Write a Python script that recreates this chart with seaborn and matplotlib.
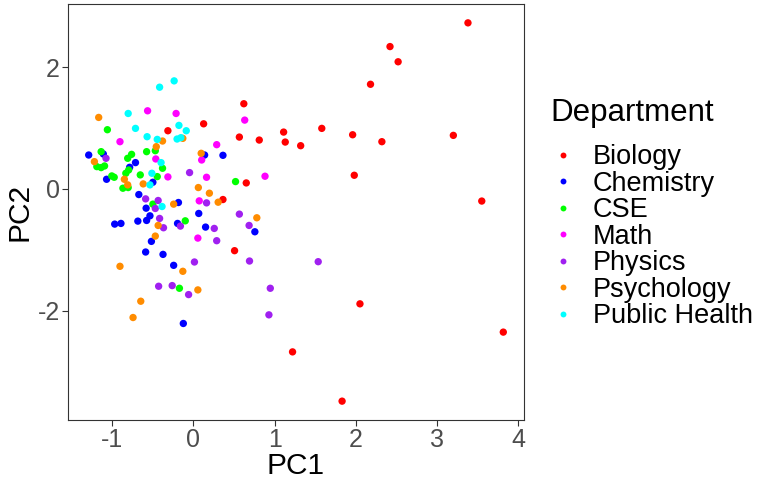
import pandas as pd
import matplotlib
matplotlib.use("Agg")
import matplotlib.pyplot as plt
import seaborn as sns

# ===================== data =====================
departments = ["Biology", "Chemistry", "CSE", "Math", "Physics", "Psychology", "Public Health"]
colors = ["#FF0000", "#0000FF", "#00FF00", "#FF00FF", "#A020F0", "#FF8C00", "#00FFFF"]

bio_pc1 = [3.38, 2.42, 2.52, 2.18, 0.62, 0.125, -0.315, 1.58, 1.11, 0.565, 0.81, 1.13, 1.32,
           1.96, 3.20, 2.32, 1.98, 0.65, 3.55, 0.363, 0.506, 2.05, 1.22, 3.815, 1.83]
bio_pc2 = [2.73, 2.34, 2.09, 1.72, 1.40, 1.07, 0.956, 0.995, 0.934, 0.852, 0.803, 0.77, 0.71,
           0.89, 0.88, 0.776, 0.224, 0.098, -0.20, -0.175, -1.016, -1.89, -2.68, -2.355, -3.49]

chem_pc1 = [-1.29, -1.11, -0.786, -0.714, -1.07, -0.50, 0.137, 0.363, -0.673, -0.583, -0.536,
            -0.577, -0.970, -0.893, -0.685, -0.185, -0.196, 0.065, 0.149, -0.518, -0.589,
            -0.375, -0.244, -0.125, 0.756]
chem_pc2 = [0.557, 0.574, 0.355, 0.432, 0.158, 0.109, 0.557, 0.552, -0.093, -0.317, -0.443,
            -0.519, -0.579, -0.568, -0.530, -0.224, -0.568, -0.404, -0.628, -0.863, -1.038,
            -1.077, -1.257, -2.213, -0.705]

cse_pc1 = [-1.06, -1.137, -0.762, -0.577, -0.470, -0.810, -1.19, -1.137, -1.095, -0.798, -0.833,
           -0.655, -0.446, -0.381, -1.006, -0.976, -0.869, -0.804, 0.518, -0.50, -0.101, -0.173]
cse_pc2 = [0.973, 0.612, 0.568, 0.612, 0.628, 0.503, 0.366, 0.350, 0.377, 0.311, 0.257,
           0.230, 0.202, 0.339, 0.213, 0.191, 0.011, 0.022, 0.120, -0.251, -0.525, -1.634]

math_pc1 = [-0.565, -0.214, -0.905, 0.286, -0.464, 0.101, -0.315, 0.161, 0.071, 0.054, 0.631, 0.881]
math_pc2 = [1.284, 1.240, 0.776, 0.727, 0.492, 0.475, 0.197, 0.191, -0.197, -0.809, 1.131, 0.208]

phys_pc1 = [-1.077, -0.048, -0.589, -0.435, -0.470, -0.417, -0.369, -0.161, 0.161, 0.256, 0.286,
            0.012, -0.429, -0.262, -0.060, 0.565, 0.685, 0.690, 1.536, 0.946, 0.929]
phys_pc2 = [0.503, 0.268, -0.164, -0.191, -0.322, -0.486, -0.639, -0.612, -0.230, -0.650, -0.852,
            -1.202, -1.601, -1.590, -1.738, -0.415, -0.601, -1.186, -1.197, -1.634, -2.071]

psych_pc1 = [-1.167, -0.381, -0.131, -0.458, 0.095, -1.220, -0.851, -0.810, -0.619, 0.060, 0.196,
             0.304, -0.244, -0.435, -0.470, -0.131, -0.905, 0.054, -0.649, -0.744, 0.780]
psych_pc2 = [1.175, 0.787, 0.831, 0.694, 0.585, 0.448, 0.158, 0.066, 0.082, 0.022, -0.071,
             -0.219, -0.251, -0.601, -0.776, -1.355, -1.273, -1.661, -1.847, -2.115, -0.475]

ph_pc1 = [-0.238, -0.417, -0.804, -0.714, -0.571, -0.179, -0.089, -0.446, -0.202, -0.155,
          -0.399, -0.512, -0.536, -0.387]
ph_pc2 = [1.776, 1.672, 1.240, 0.995, 0.858, 1.044, 0.956, 0.814, 0.820, 0.842,
          0.432, 0.257, 0.066, -0.290]

pc1_lists = [bio_pc1, chem_pc1, cse_pc1, math_pc1, phys_pc1, psych_pc1, ph_pc1]
pc2_lists = [bio_pc2, chem_pc2, cse_pc2, math_pc2, phys_pc2, psych_pc2, ph_pc2]

frames = []
for dep, xs, ys in zip(departments, pc1_lists, pc2_lists):
    frames.append(pd.DataFrame({"PC1": xs, "PC2": ys, "Department": dep}))
df = pd.concat(frames, ignore_index=True)

# ===================== plot =====================
sns.set_style("white")
plt.rcParams["font.family"] = ["Liberation Sans", "DejaVu Sans"]
plt.rcParams["axes.unicode_minus"] = False
plt.rcParams["text.color"] = "black"

fig = plt.figure(figsize=(7.57, 4.84), dpi=100)
ax = fig.add_axes([68 / 757, 1 - 420 / 484, (524 - 68) / 757, (420 - 4) / 484])

sns.scatterplot(data=df, x="PC1", y="PC2", hue="Department", hue_order=departments,
                palette=dict(zip(departments, colors)), s=28, linewidth=0, ax=ax)

ax.set_xlim(-1.545, 4.07)
ax.set_ylim(-3.80, 3.04)
ax.set_xticks([-1, 0, 1, 2, 3, 4])
ax.set_yticks([-2, 0, 2])
ax.tick_params(axis="both", labelsize=18, labelcolor="#4D4D4D", color="#333333",
               length=4, width=0.8, pad=2, direction="out", bottom=True, left=True)
ax.set_xlabel("PC1", fontsize=21.5, color="black", labelpad=0)
ax.set_ylabel("PC2", fontsize=21.5, color="black", labelpad=3)
for sp in ax.spines.values():
    sp.set_color("#333333")
    sp.set_linewidth(0.8)

# legend: title drawn as figure text, entries as a legend below it
fig.text(550 / 757, 1 - 113 / 484, "Department", fontsize=22.5, color="black",
         ha="left", va="center")
handles, labels = ax.get_legend_handles_labels()
leg = ax.legend(handles, labels, loc="upper left",
                bbox_to_anchor=(550 / 757, 1 - 144 / 484), bbox_transform=fig.transFigure,
                frameon=False, fontsize=19.5, borderpad=0, borderaxespad=0,
                handlelength=0.94, handletextpad=0.65, labelspacing=0.02, markerscale=0.8)
for t in leg.get_texts():
    t.set_color("black")

plt.savefig("out.png", dpi=100)
plt.close()
